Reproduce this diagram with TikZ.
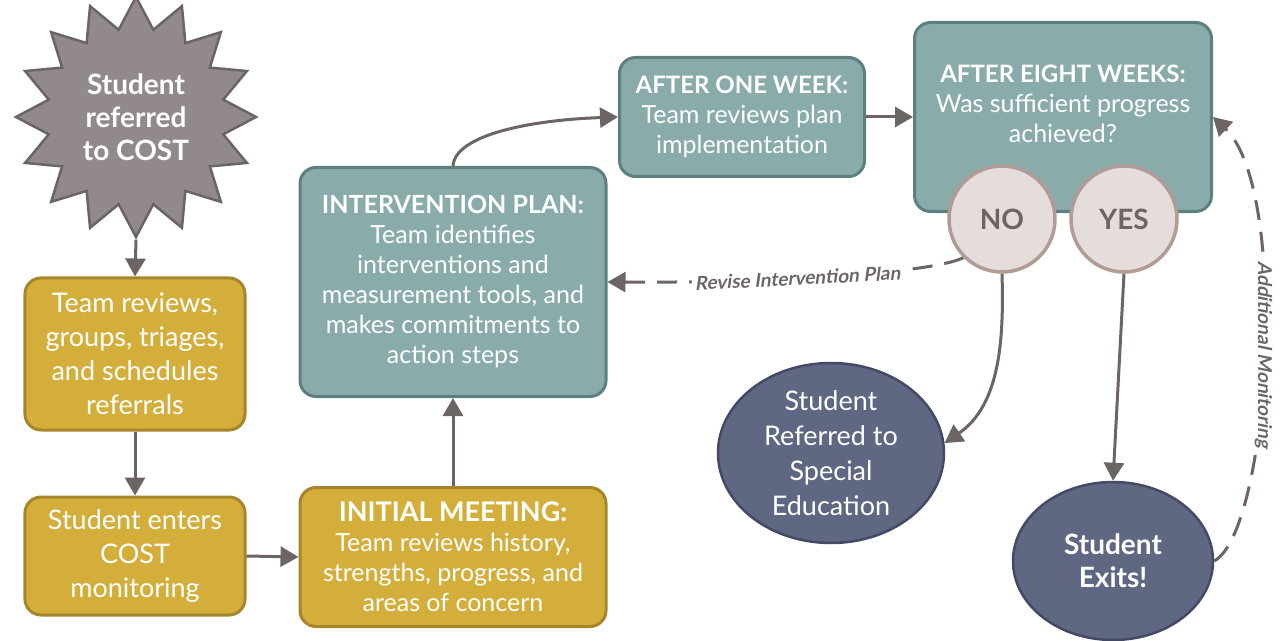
\documentclass[tikz,border=0pt]{standalone}
\usepackage{fontspec}
\setmainfont{Lato}
\newfontfamily\lblfont{Lato}[FakeSlant=0.2]
\usetikzlibrary{shapes.geometric,arrows.meta}
\definecolor{starfill}{HTML}{928A8A}
\definecolor{starline}{HTML}{6B6464}
\definecolor{goldfill}{HTML}{D4AE3B}
\definecolor{goldline}{HTML}{A6862A}
\definecolor{tealfill}{HTML}{89ACAB}
\definecolor{tealline}{HTML}{5E7F80}
\definecolor{arrowc}{HTML}{6D6464}
\definecolor{pinkfill}{HTML}{E5DDDB}
\definecolor{pinkline}{HTML}{B09C94}
\definecolor{navyfill}{HTML}{5F6783}
\definecolor{navyline}{HTML}{444A66}
\tikzset{
  box/.style={rectangle, rounded corners=16bp, line width=3bp, align=center, text=white, inner sep=0pt},
  goldbox/.style={box, fill=goldfill, draw=goldline},
  tealbox/.style={box, fill=tealfill, draw=tealline},
  bodyfont/.style={font=\fontsize{25bp}{30bp}\selectfont},
  bigfont/.style={font=\fontsize{27bp}{34bp}\selectfont},
  arr/.style={draw=arrowc, line width=3bp, -{Triangle[length=18bp,width=20bp]}},
  dasharr/.style={arr, dash pattern=on 20bp off 12bp},
  answer/.style={circle, minimum size=106bp, inner sep=0pt, fill=pinkfill, draw=pinkline, line width=3.5bp, text=arrowc, font=\bfseries\fontsize{28bp}{32bp}\selectfont},
  outcome/.style={ellipse, inner sep=0pt, fill=navyfill, draw=navyline, line width=2.5bp, text=white, align=center},
  flowlabel/.style={fill=white, text=arrowc, inner sep=3bp, font=\lblfont\bfseries\fontsize{19bp}{22bp}\selectfont}
}
\begin{document}
\begin{tikzpicture}[x=1bp,y=-1bp]
\useasboundingbox (0,0) rectangle (1286,641);

\node[star, star points=16, star point ratio=1.35, minimum size=240bp, inner sep=0pt,
      fill=starfill, draw=starline, line width=2.5bp, text=white, align=center,
      font=\bfseries\fontsize{28bp}{33bp}\selectfont] (star) at (136,117) {Student\\referred\\to COST};

\node[goldbox, bigfont, minimum width=220bp, minimum height=152bp] (b1) at (135,354)
  {Team reviews,\\groups, triages,\\and schedules\\referrals};
\node[goldbox, bigfont, minimum width=220bp, minimum height=118bp] (b2) at (135,556)
  {Student enters\\COST\\monitoring};
\node[goldbox, bodyfont, minimum width=306bp, minimum height=139bp] (b3) at (453,557)
  {{\bfseries\fontsize{27bp}{30bp}\selectfont INITIAL MEETING:}\\Team reviews history,\\strengths, progress, and\\areas of concern};
\node[tealbox, bodyfont, minimum width=306bp, minimum height=229bp] (b4) at (453,282)
  {{\bfseries\fontsize{25bp}{30bp}\selectfont INTERVENTION PLAN:}\\Team identifies\\interventions and\\measurement tools, and\\makes commitments to\\action steps};
\node[tealbox, bodyfont, minimum width=245bp, minimum height=119bp] (b5) at (742,117)
  {{\bfseries\fontsize{24bp}{30bp}\selectfont AFTER ONE WEEK:}\\Team reviews plan\\implementation};
\node[tealbox, minimum width=297bp, minimum height=189bp] (b6) at (1063,117) {};
\node[align=center, text=white, bodyfont, inner sep=0pt] (b6t) at (1063,104)
  {{\bfseries\fontsize{24bp}{30bp}\selectfont AFTER EIGHT WEEKS:}\\Was sufficient progress\\achieved?};

\node[answer] (no) at (1002,219) {NO};
\node[answer] (yes) at (1124,219) {YES};

\node[outcome, minimum width=226bp, minimum height=180bp, font=\fontsize{27bp}{35bp}\selectfont] (sped) at (831,453)
  {Student\\Referred to\\Special\\Education};
\node[outcome, minimum width=200bp, minimum height=158bp, font=\bfseries\fontsize{28bp}{33bp}\selectfont] (exit) at (1113,561)
  {Student\\Exits!};

\draw[arr] (star.south) -- (b1.north);
\draw[arr] (b1.south) -- (b2.north);
\draw[arr] (b2.east) -- (b3.west);
\draw[arr] (b3.north) -- (b4.south);
\draw[arr] (b4.north) .. controls (455,135) and (530,120) .. (b5.west);
\draw[arr] (b5.east) -- (b6.west);
\draw[arr] (no.south) .. controls (1004,340) and (1000,405) .. (sped.5);
\draw[arr] (yes.south) -- (exit.north);
\draw[dasharr] (no.225) .. controls (930,274) and (760,283) .. (b4.east)
  node[flowlabel, pos=0.58, rotate=3] (revise) {Revise Intervention Plan};
\draw[dasharr] (exit.east) .. controls (1270,530) and (1290,190) .. (b6.east)
  node[flowlabel, pos=0.5, rotate=-90] (addmon) {Additional Monitoring};
\end{tikzpicture}
\end{document}
